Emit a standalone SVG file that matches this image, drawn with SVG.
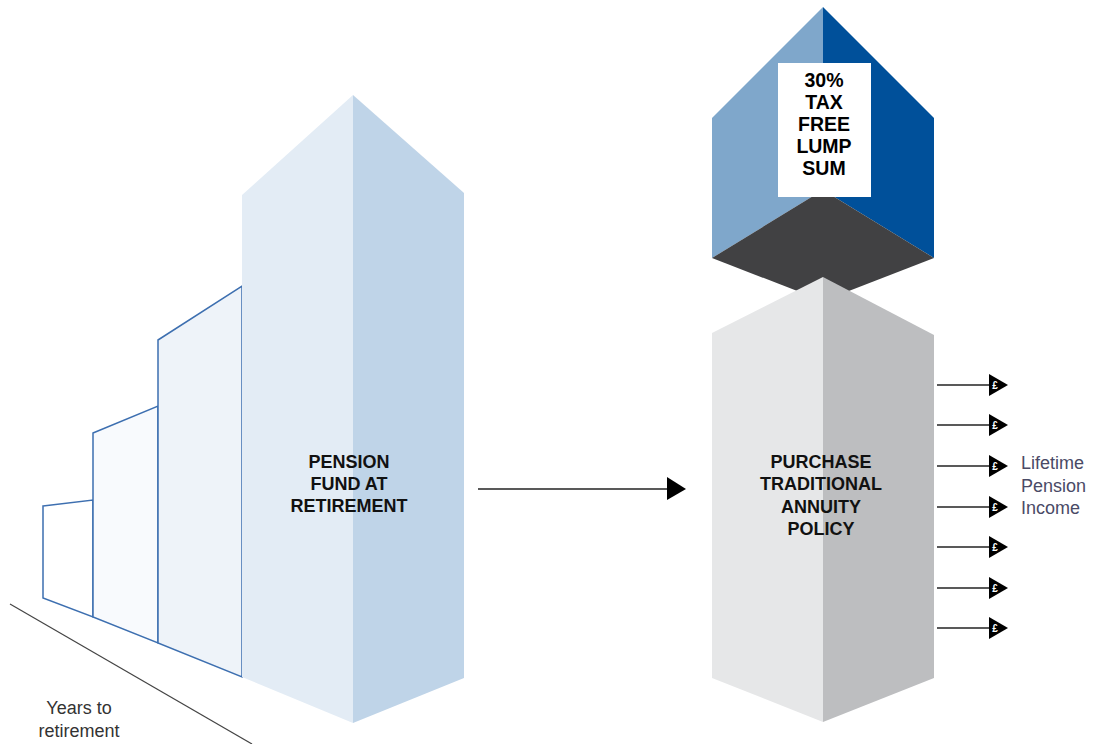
<svg xmlns="http://www.w3.org/2000/svg" width="1094" height="744" viewBox="0 0 1094 744">
<style>
.lbl{font-family:"Liberation Sans",Arial,sans-serif;font-weight:bold;font-size:18px;fill:#111;text-anchor:middle}
.big{font-size:19.5px;fill:#000}
.txt{font-family:"Liberation Sans",Arial,sans-serif;font-size:18px;fill:#333}
.inc{fill:#4A4A66}
.small{stroke:#3D6FB0;stroke-width:1.5}
.conn{stroke:#222;stroke-width:1.3;fill:none}
.pound{font-family:"Liberation Sans",Arial,sans-serif;font-weight:bold;font-size:10px;fill:#fff;text-anchor:middle}
</style>
<defs>
<g id="inc">
<line x1="937" y1="0" x2="990" y2="0" class="conn"/>
<polygon points="989,-11 1008,0 989,11" fill="#000"/>
<text x="995" y="4" class="pound">£</text>
</g>
</defs>
<rect width="1094" height="744" fill="#fff"/>
<g id="ground">
<line x1="10" y1="604" x2="252" y2="744" stroke="#444" stroke-width="1.2"/>
<text class="txt" x="79" y="714" text-anchor="middle">Years to</text>
<text class="txt" x="79" y="737" text-anchor="middle">retirement</text>
</g>
<g id="bar1"><polygon class="small" points="43,506 93,500 93,617 43,598" fill="#fff"/></g>
<g id="bar2"><polygon class="small" points="93,433 158,406 158,643 93,617" fill="#F8FAFD"/></g>
<g id="bar3"><polygon class="small" points="158,340 242,286 242,677 158,643" fill="#EEF3F9"/></g>
<g id="pension">
<polygon points="353,95 242,195 242,677 353,723" fill="#E3ECF5"/>
<polygon points="353,95 464,193 464,678 353,723" fill="#BFD4E8"/>
<text class="lbl" x="349" y="468">PENSION</text>
<text class="lbl" x="349" y="490">FUND AT</text>
<text class="lbl" x="349" y="512">RETIREMENT</text>
</g>
<g id="lumpsum">
<polygon points="823,7 712,118 712,258 823,190" fill="#7FA7CB"/>
<polygon points="823,7 934,118 934,258 823,190" fill="#00509A"/>
<polygon points="712,258 823,190 934,258 823,301" fill="#414143"/>
<rect x="778" y="63" width="93" height="134" fill="#fff"/>
<text class="lbl big" x="824" y="87">30%</text>
<text class="lbl big" x="824" y="109">TAX</text>
<text class="lbl big" x="824" y="131">FREE</text>
<text class="lbl big" x="824" y="153">LUMP</text>
<text class="lbl big" x="824" y="175">SUM</text>
</g>
<g id="annuity">
<polygon points="823,277 712,333 712,678 823,722" fill="#E6E7E8"/>
<polygon points="823,277 934,335 934,678 823,722" fill="#BDBEC0"/>
<text class="lbl" x="821" y="468">PURCHASE</text>
<text class="lbl" x="821" y="490">TRADITIONAL</text>
<text class="lbl" x="821" y="513">ANNUITY</text>
<text class="lbl" x="821" y="535">POLICY</text>
</g>
<g id="connectors">
<line x1="478" y1="489" x2="668" y2="489" class="conn"/>
<polygon points="667,477 686,489 667,500" fill="#000"/>
<use href="#inc" y="385"/>
<use href="#inc" y="425"/>
<use href="#inc" y="466"/>
<use href="#inc" y="507"/>
<use href="#inc" y="547"/>
<use href="#inc" y="588"/>
<use href="#inc" y="628"/>
</g>
<g id="income-label">
<text class="txt inc" x="1021" y="469">Lifetime</text>
<text class="txt inc" x="1021" y="492">Pension</text>
<text class="txt inc" x="1021" y="514">Income</text>
</g>
</svg>
